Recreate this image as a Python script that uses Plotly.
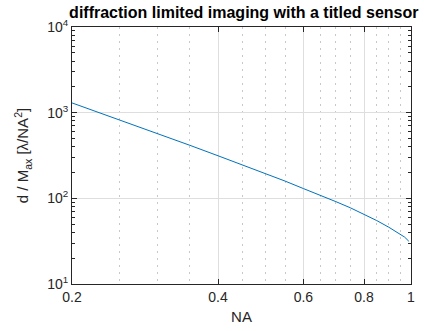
import plotly.graph_objects as go

# Numerical aperture samples and the corresponding normalised distance d / M_ax
na = [0.2, 0.25, 0.3, 0.35, 0.4, 0.45, 0.5, 0.55, 0.6, 0.65, 0.7, 0.75,
      0.8, 0.85, 0.9, 0.95, 0.97, 0.99]
d_over_m = [1300, 830, 572, 416, 314, 246, 195, 159, 130, 109, 91.5, 77.5,
            65.5, 55, 46, 38.3, 35.3, 31.5]

x_ticks = [0.2, 0.4, 0.6, 0.8, 1]
x_ticktext = ["0.2", "0.4", "0.6", "0.8", "1"]
x_minor = [0.25, 0.3, 0.35, 0.45, 0.5, 0.55, 0.65, 0.7, 0.75, 0.85, 0.9, 0.95]
y_ticks = [10, 100, 1000, 10000]
y_ticktext = ["10<sup>1</sup>", "10<sup>2</sup>", "10<sup>3</sup>", "10<sup>4</sup>"]
y_minor = [m * 10 ** e for e in (1, 2, 3) for m in range(2, 10)]

ink = "#262626"
font = "Liberation Sans, Arial, sans-serif"

fig = go.Figure(
    go.Scatter(
        x=na, y=d_over_m, mode="lines",
        line=dict(color="#0072BD", width=1),
        hoverinfo="skip",
    )
)

fig.update_layout(
    width=424, height=331,
    margin=dict(l=72, r=9, t=27, b=47),
    paper_bgcolor="white", plot_bgcolor="white",
    showlegend=False,
    font=dict(family=font, color=ink, size=14),
    title=dict(
        text="<b>diffraction limited imaging with a titled sensor</b>",
        font=dict(size=16, color="black", family=font),
        x=0.575, xanchor="center", y=0.962, yanchor="middle",
    ),
)

fig.update_xaxes(
    type="log", range=[-0.69897, 0],
    tickmode="array", tickvals=x_ticks, ticktext=x_ticktext,
    ticks="inside", ticklen=5, tickcolor=ink, tickwidth=1,
    showline=True, linecolor=ink, linewidth=1, mirror="ticks",
    showgrid=True, gridcolor="#dedede", gridwidth=1,
    minor=dict(tickmode="array", tickvals=x_minor, ticks="",
               showgrid=True, gridcolor="#c8c8c8", griddash="2px,5px", gridwidth=1),
    tickfont=dict(size=14, color=ink),
    title=dict(text="NA", font=dict(size=15, color=ink), standoff=7),
    zeroline=False,
)

fig.update_yaxes(
    type="log", range=[1, 4],
    tickmode="array", tickvals=y_ticks, ticktext=y_ticktext,
    ticks="inside", ticklen=5, tickcolor=ink, tickwidth=1,
    showline=True, linecolor=ink, linewidth=1, mirror="ticks",
    showgrid=True, gridcolor="#dedede", gridwidth=1,
    minor=dict(tickmode="array", tickvals=y_minor, ticks="inside",
               ticklen=3, tickcolor=ink, showgrid=False),
    tickfont=dict(size=14, color=ink),
    title=dict(text="d / M<sub>ax</sub> [λ/NA<sup>2</sup>]",
               font=dict(size=15, color=ink), standoff=14),
    zeroline=False,
)

fig.write_html("out.html")
